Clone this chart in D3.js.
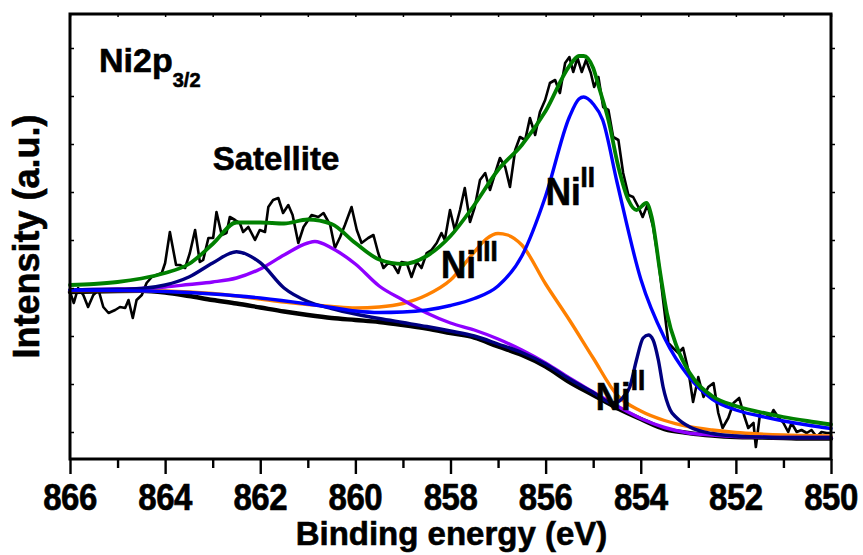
<!DOCTYPE html>
<html><head><meta charset="utf-8">
<script src="https://cdn.jsdelivr.net/npm/d3@7"></script>
<style>
body{margin:0;background:#fff}
svg{display:block}
text{font-family:"Liberation Sans",Arial,Helvetica,sans-serif;font-weight:bold;fill:#000;stroke:#000;stroke-width:0.6px}
</style>
</head><body>
<svg id="chart" width="863" height="555"></svg>
<script>
// ---------- data (binding energy in eV, intensity in a.u.) ----------
const rawE = [866.00,865.92,865.83,865.72,865.62,865.51,865.40,865.30,865.19,865.05,
864.95,864.84,864.77,864.68,864.60,864.49,864.39,864.28,864.18,864.07,
864.00,863.90,863.77,863.69,863.58,863.48,863.37,863.27,863.20,863.09,
862.99,862.92,862.81,862.71,862.64,862.53,862.43,862.36,862.25,862.11,
862.01,861.90,861.83,861.73,861.62,861.52,861.41,861.32,861.20,861.09,
860.92,860.78,860.67,860.53,860.43,860.32,860.22,860.08,859.97,859.87,
859.73,859.62,859.52,859.41,859.31,859.20,859.10,859.03,858.92,858.82,
858.71,858.61,858.50,858.40,858.29,858.19,858.12,858.01,857.91,857.80,
857.70,857.59,857.49,857.38,857.27,857.17,857.06,856.96,856.85,856.75,
856.64,856.54,856.43,856.33,856.22,856.12,856.01,855.91,855.80,855.70,
855.59,855.50,855.42,855.33,855.24,855.15,855.05,854.98,854.89,854.79,
854.68,854.58,854.47,854.37,854.26,854.16,854.05,853.96,853.86,853.74,
853.63,853.53,853.42,853.32,853.21,853.11,853.00,852.90,852.79,852.68,
852.58,852.47,852.37,852.28,852.16,852.05,851.93,851.83,851.74,851.63,
851.58,851.49,851.39,851.28,851.21,851.11,851.00,850.90,850.83,850.72,
850.62,850.51,850.41,850.30,850.20,850.09,850.00];
const rawI = [167,156,171,164,152,164,169,152,146,149,
152,151,159,141,159,164,176,182,184,186,
196,227,194,194,191,206,229,197,199,221,
221,247,224,226,242,239,236,227,232,219,
229,227,252,259,261,246,254,244,216,232,
244,242,246,234,211,222,234,252,229,216,
221,224,206,191,196,194,186,197,196,182,
197,191,206,209,216,226,219,249,229,249,
271,237,252,279,286,269,286,301,292,272,
309,322,319,341,324,347,359,376,379,366,
396,402,387,401,387,399,386,372,382,352,
349,322,319,286,264,262,252,242,254,232,
199,159,116,111,106,111,89,57,82,62,
72,76,46,31,41,56,61,44,31,36,
12,46,46,42,49,42,36,27,36,27,
29,26,29,22,27,26,26];

const bgE = [866,865.5,865,864.5,864,863.5,863,862.5,862,861.5,861,860.5,860,859.5,859,858.5,858,857.5,857,856.5,856,855.5,855,854.5,854,853.5,853,852.5,852,851.5,851,850.5,850];
const bgI = [167,167.5,168,168.2,166.5,163,159,155.5,151.5,147.5,144,141,139,137,134,130.5,126,121.5,112.5,104,92.5,77,64,51,40,30,26,23.5,22,21.5,21,20.5,20.5];

const navyE = [866,865.5,865,864.5,864,863.5,863,862.5,862,861.5,861,860.5,860,859.5,859,858.5,858,857.5,857,856.5,856,855.5,855,
854.6,854.45,854.35,854.23,854.09,853.95,853.84,853.74,853.63,853.53,853.38,853.24,852.97,852.5,852,851.5,851,850.5,850];
const navyI = [169,169.5,169.7,170.5,174,182,196,207.3,196.3,171,157.5,150.5,145,140.5,136.5,132.5,128,123,115,106.5,95,80,66.5,
56,58,63,72,99,121,124,119,99,72,49,41,32,25.5,23,22,21.5,21.5,21.5];

const purpleE = [866,865.5,865,864.5,864,863.5,863,862.5,862,861.5,861,860.85,860.5,860,859.5,859,858.5,858,857.5,857,856.5,856,855.5,855,854.5,854,853.5,853,852.5,852,851.5,851,850.5,850];
const purpleI = [169,169.5,170,170.5,172,174.5,177,181,190,204,216,217.5,211,195,173,159,146,136,129,120,109,96,81,67,53,40.5,31.5,26,24,22.5,22,21.5,21.5,21.5];

const orangeE = [866,865,864,863,862.5,862,861.5,861,860.5,860,859.5,859,858.5,858,857.5,857.25,857,856.8,856.5,856,855.5,855,854.5,854,853.5,853,852.5,852,851.5,851,850.5,850];
const orangeI = [168.5,168.5,168,165.5,163,160,157,154.5,152.5,151,152,155.5,164,179,207,220,225.5,224,214,175,139,101,64,48,38.5,32.5,29,26.5,25,24,23.5,23];

const blueE = [866,865,864,863,862,861,860.5,860,859.5,859,858.5,858,857.5,857,856.5,856,855.5,855.3,855.2,855,854.8,854.5,854,853.5,853,852.5,852,851.5,851,850.5,850];
const blueI = [169,168.5,167.5,165,161,155,151.5,148,146.5,147,149,153.5,160.5,173,203,263,342,360,362,355,339,277,180,121,83,60,49,43,38,34,30.5];

const greenE = [866,865.5,865,864.5,864,863.5,863,862.5,862,861.5,861,860.5,860,859.5,859,858.5,858,857.5,857,856.5,856,855.5,855.3,855.2,
855,854.88,854.68,854.47,854.26,854.09,853.88,853.77,853.59,853.45,853.24,852.97,852.5,852,851.5,851,850.5,850];
const greenI = [174,175,177,180.5,186,195,215,236.5,236.5,235.5,239.5,235,216,199.5,195,203,223,254,289,314,348,393,403,403,
391,372,339,292,259,249,256,242,186,146,112,86,63,53,47,42,38,34.5];

const xMajorTicks = [866,864,862,860,858,856,854,852,850];
const xMinorTicks = [865,863,861,859,857,855,853,851];
const xAllTicks = d3.range(866, 849, -1);
const yTicks = [27,75,123,171,219,267,315,363,411];

// ---------- layout ----------
const svg = d3.select("#chart");
const L = 70, R = 831, T = 14, B = 459;
const x = d3.scaleLinear().domain([866, 850]).range([L, R]);
const y = d3.scaleLinear().domain([0, 445]).range([B, T]);

const lineSmooth = d3.line().x(d => x(d[0])).y(d => y(d[1])).curve(d3.curveMonotoneX);
const lineRaw = d3.line().x(d => x(d[0])).y(d => y(d[1])).curve(d3.curveLinear);

const plot = svg.append("g");
plot.append("path").datum(d3.zip(rawE, rawI)).attr("d", lineRaw)
  .attr("fill", "none").attr("stroke", "#000").attr("stroke-width", 2.6).attr("stroke-linejoin", "round");

const series = [
  {E: bgE, I: bgI, color: "#000000", w: 4.5},
  {E: orangeE, I: orangeI, color: "#FF8000", w: 3.4},
  {E: purpleE, I: purpleI, color: "#8F00FF", w: 3.4},
  {E: navyE, I: navyI, color: "#000080", w: 3.4},
  {E: blueE, I: blueI, color: "#0000FF", w: 3.4},
  {E: greenE, I: greenI, color: "#008000", w: 3.8}
];
series.forEach(s => {
  plot.append("path").datum(d3.zip(s.E, s.I)).attr("d", lineSmooth)
    .attr("fill", "none").attr("stroke", s.color).attr("stroke-width", s.w)
    .attr("stroke-linejoin", "round").attr("stroke-linecap", "round");
});

// ---------- axes ----------
const bottomMajor = svg.append("g").attr("transform", `translate(0,${B})`)
  .call(d3.axisBottom(x).tickValues(xMajorTicks).tickSize(15).tickFormat(d3.format("d")));
bottomMajor.select(".domain").remove();
bottomMajor.selectAll(".tick line").attr("stroke", "#000").attr("stroke-width", 2.4);
bottomMajor.selectAll(".tick text").remove();

const bottomMinor = svg.append("g").attr("transform", `translate(0,${B})`)
  .call(d3.axisBottom(x).tickValues(xMinorTicks).tickSize(9).tickFormat(""));
bottomMinor.select(".domain").remove();
bottomMinor.selectAll(".tick line").attr("stroke", "#000").attr("stroke-width", 2.4);

const topAx = svg.append("g").attr("transform", `translate(0,${T})`)
  .call(d3.axisBottom(x).tickValues(xAllTicks).tickSize(3).tickFormat(""));
topAx.select(".domain").remove();
topAx.selectAll(".tick line").attr("stroke", "#000").attr("stroke-width", 1.5);

const leftAx = svg.append("g").attr("transform", `translate(${L},0)`)
  .call(d3.axisRight(y).tickValues(yTicks).tickSize(4).tickFormat(""));
leftAx.select(".domain").remove();
leftAx.selectAll(".tick line").attr("stroke", "#000").attr("stroke-width", 1.5);

const rightAx = svg.append("g").attr("transform", `translate(${R},0)`)
  .call(d3.axisRight(y).tickValues(yTicks).tickSize(4).tickFormat(""));
rightAx.select(".domain").remove();
rightAx.selectAll(".tick line").attr("stroke", "#000").attr("stroke-width", 1.5);

// frame
svg.append("rect").attr("x", L).attr("y", T).attr("width", R - L).attr("height", B - T)
  .attr("fill", "none").attr("stroke", "#000").attr("stroke-width", 3);

// tick labels (slightly tall glyphs as in the reference)
xMajorTicks.forEach(v => {
  svg.append("text").attr("transform", `translate(${x(v)},510) scale(1,1.1)`)
    .attr("text-anchor", "middle").style("font-size", "33px").style("letter-spacing", "-0.5px")
    .text(d3.format("d")(v));
});

// axis titles
svg.append("text").attr("x", (L + R) / 2 + 1).attr("y", 545).attr("text-anchor", "middle")
  .style("font-size", "33px").text("Binding energy (eV)");
svg.append("text").attr("transform", `translate(39,${(T + B) / 2}) rotate(-90)`)
  .attr("text-anchor", "middle").style("font-size", "36px").text("Intensity (a.u.)");

// ---------- annotations ----------
const t1 = svg.append("text").attr("transform", `translate(${x(865.39)},${y(387.3)})`).style("font-size", "34px");
t1.append("tspan").text("Ni2p");
t1.append("tspan").attr("dy", 15).style("font-size", "20px").text("3/2");

svg.append("text").attr("x", x(863.0)).attr("y", y(289)).style("font-size", "33px").text("Satellite");

const niLabels = [
  {E: 856.00, I: 254, sup: "II", dy: -18},
  {E: 858.20, I: 180.7, sup: "III", dy: -17},
  {E: 854.945, I: 49, sup: "II", dy: -20}
];
niLabels.forEach(d => {
  const t = svg.append("text").attr("transform", `translate(${x(d.E)},${y(d.I)}) scale(1,1.1)`)
    .style("font-size", "35px");
  t.append("tspan").text("Ni");
  t.append("tspan").attr("dy", d.dy / 1.1).style("font-size", "26px").text(d.sup);
});
</script>
</body></html>
